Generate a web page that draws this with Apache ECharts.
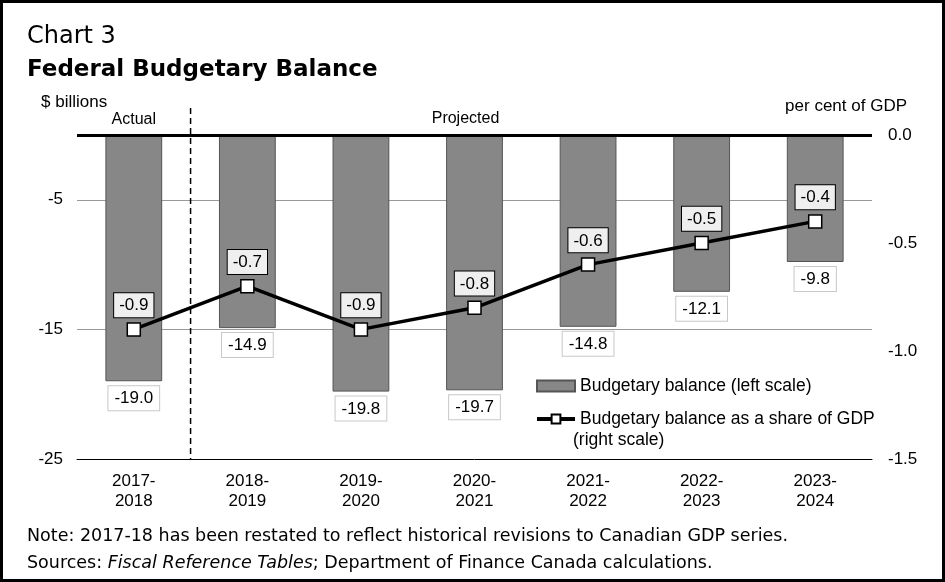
<!DOCTYPE html>
<html>
<head>
<meta charset="utf-8">
<script src="https://cdn.jsdelivr.net/npm/echarts@6/dist/echarts.min.js"></script>
<style>
html, body { margin: 0; padding: 0; background: #fff; }
#main { width: 945px; height: 582px; box-sizing: border-box; border: 3px solid #000; }
</style>
</head>
<body>
<div id="main"></div>
<script>
// 数据
var years = ['2017-\n2018', '2018-\n2019', '2019-\n2020', '2020-\n2021', '2021-\n2022', '2022-\n2023', '2023-\n2024'];
var balance = [-19.0, -14.9, -19.8, -19.7, -14.8, -12.1, -9.8];
var share_gdp = [-0.9, -0.7, -0.9, -0.8, -0.6, -0.5, -0.4];
var left_ticks = [-25, -15, -5];
var right_ticks = [-1.5, -1.0, -0.5, 0.0];

var font = 'Liberation Sans, Arial, sans-serif';
var font_note = 'DejaVu Sans, sans-serif';

var chart = echarts.init(document.getElementById('main'));
var option = {
    animation: false,
    grid: { left: 74, right: 70, top: 132, bottom: 120 },
    legend: {
        orient: 'vertical',
        left: 527,
        top: 369,
        itemGap: 15,
        itemWidth: 38,
        itemHeight: 11,
        textStyle: { fontFamily: font, fontSize: 17.5, color: '#000' },
        data: [
            { name: 'Budgetary balance (left scale)', icon: 'rect' },
            { name: 'Budgetary balance as a share of GDP', lineStyle: { width: 4, color: '#000' } }
        ]
    },
    xAxis: {
        type: 'category',
        data: years,
        axisLine: { onZero: false, lineStyle: { color: '#000', width: 1 } },
        axisTick: { show: false },
        axisLabel: { fontFamily: font, fontSize: 17, color: '#000', lineHeight: 20, margin: 12 }
    },
    yAxis: [{
        type: 'value',
        min: -25,
        max: 0,
        interval: 10,
        axisLine: { show: false },
        axisTick: { show: false },
        splitLine: { showMinLine: false, showMaxLine: false, lineStyle: { color: '#999', width: 1 } },
        axisLabel: {
            fontFamily: font, fontSize: 17, color: '#000', margin: 14,
            formatter: function(v) { return left_ticks.indexOf(v) >= 0 ? String(v) : ''; }
        }
    }, {
        type: 'value',
        min: -1.5,
        max: 0,
        interval: 0.5,
        axisLine: { show: false },
        axisTick: { show: false },
        splitLine: { show: false },
        axisLabel: {
            fontFamily: font, fontSize: 17, color: '#000', margin: 16,
            formatter: function(v) { return right_ticks.indexOf(v) >= 0 ? v.toFixed(1) : ''; }
        }
    }],
    series: [{
        name: 'Budgetary balance (left scale)',
        type: 'bar',
        data: balance,
        barWidth: '50%',
        itemStyle: { color: '#878787', borderColor: '#555', borderWidth: 1 },
        label: {
            show: true,
            position: 'bottom',
            distance: 5,
            fontFamily: font, fontSize: 17, color: '#000',
            backgroundColor: '#fff',
            borderColor: '#c8c8c8', borderWidth: 1,
            padding: [4, 6, 3, 6],
            formatter: function(p) { return p.value.toFixed(1); }
        },
        markLine: {
            silent: true,
            symbol: 'none',
            label: { show: false },
            lineStyle: { color: '#000', width: 3, type: 'solid' },
            data: [{ yAxis: 0 }]
        },
        z: 2
    }, {
        name: 'Budgetary balance as a share of GDP',
        type: 'line',
        yAxisIndex: 1,
        data: share_gdp,
        symbol: 'rect',
        symbolSize: 13,
        lineStyle: { color: '#000', width: 3.5 },
        itemStyle: { color: '#fff', borderColor: '#000', borderWidth: 1.5 },
        label: {
            show: true,
            position: 'top',
            distance: 5,
            fontFamily: font, fontSize: 17, color: '#000',
            backgroundColor: '#efefef',
            borderColor: '#000', borderWidth: 1,
            padding: [4, 5, 3, 5],
            formatter: function(p) { return p.value.toFixed(1); }
        },
        z: 5
    }]
};
chart.setOption(option);

// 虚线，标题，注释
var x0 = chart.convertToPixel({ xAxisIndex: 0 }, 0);
var x1 = chart.convertToPixel({ xAxisIndex: 0 }, 1);
var x3 = chart.convertToPixel({ xAxisIndex: 0 }, 3);
var y_top = chart.convertToPixel({ yAxisIndex: 0 }, 0);
var y_bot = chart.convertToPixel({ yAxisIndex: 0 }, -25);
var x_div = (x0 + x1) / 2;

chart.setOption({
    graphic: [
        { type: 'line', shape: { x1: x_div, y1: y_top - 27, x2: x_div, y2: y_bot }, style: { stroke: '#000', lineWidth: 1.5, lineDash: [6, 4] }, z: 10 },
        { type: 'text', left: 24, top: 22, style: { text: 'Chart 3', font: '24px ' + font_note, fill: '#000' } },
        { type: 'text', left: 24, top: 56, style: { text: 'Federal Budgetary Balance', font: 'bold 23px ' + font_note, fill: '#000' } },
        { type: 'text', left: 38, top: 91, style: { text: '$ billions', font: '17px ' + font, fill: '#000' } },
        { type: 'text', x: x0, y: 117, style: { text: 'Actual', font: '16px ' + font, fill: '#000', align: 'center', verticalAlign: 'middle' } },
        { type: 'text', x: x3 - 9, y: 116, style: { text: 'Projected', font: '16px ' + font, fill: '#000', align: 'center', verticalAlign: 'middle' } },
        { type: 'text', right: 35, top: 95, style: { text: 'per cent of GDP', font: '17px ' + font, fill: '#000' } },
        { type: 'text', left: 570, top: 428, style: { text: '(right scale)', font: '17.5px ' + font, fill: '#000' } },
        { type: 'text', left: 24, top: 524, style: { text: 'Note: 2017-18 has been restated to reflect historical revisions to Canadian GDP series.', font: '17.5px ' + font_note, fill: '#000' } },
        { type: 'text', left: 24, top: 551, style: {
            text: 'Sources: {i|Fiscal Reference Tables}; Department of Finance Canada calculations.',
            font: '17.5px ' + font_note, fill: '#000',
            rich: { i: { fontStyle: 'italic', fontFamily: font_note, fontSize: 17.5 } }
        } }
    ]
});
</script>
</body>
</html>
